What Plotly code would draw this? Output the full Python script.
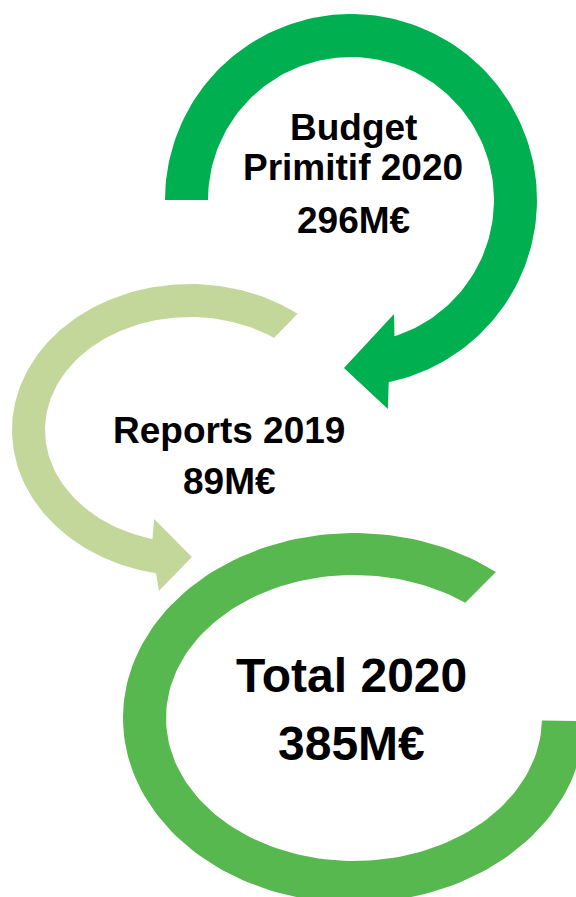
import numpy as np
import plotly.graph_objects as go

# étapes du budget (montants en M€)
stage_lines = [["Budget", "Primitif 2020"], ["Reports 2019"], ["Total 2020"]]
stage_values = [296, 89, 385]
stage_colors = ["#00B050", "#C4D79B", "#57B84F"]

# géométrie des flèches circulaires (repère en pixels, y vers le bas)
# centre, demi-axes extérieurs / intérieurs, angles début -> fin, pointe (angle, rayon relatif)
arcs = [
    dict(c=(351, 200), outer=(186, 186), inner=(143, 143),
         t_out=(180, -78.3), t_in=(180, -72.3),
         head=[(-80, 1.141), (-92.4, 0.904), (-69.3, 0.655)]),
    dict(c=(190, 430), outer=(178, 146), inner=(145, 113),
         t_out=(52.8, 259), t_in=(54.6, 255),
         head=[(261, 1.117), (270.7, 0.870), (251.7, 0.642)]),
    dict(c=(354, 718), outer=(231, 185), inner=(188, 143),
         t_out=(52.1, 359), t_in=(53.7, 359), head=[]),
]

# placement du texte
text_x = [353, 229, 351]
text_y = [[127.5, 167, 220], [430, 481], [675, 743]]
font_sizes = [37, 37, 48]


def ring(c, outer, inner, t_out, t_in, head):
    to = np.radians(np.linspace(t_out[0], t_out[1], 160))
    ti = np.radians(np.linspace(t_in[0], t_in[1], 160))[::-1]
    xs = list(c[0] + outer[0] * np.cos(to))
    ys = list(c[1] - outer[1] * np.sin(to))
    for t, s in head:
        a = np.radians(t)
        xs.append(c[0] + s * outer[0] * np.cos(a))
        ys.append(c[1] - s * outer[1] * np.sin(a))
    xs += list(c[0] + inner[0] * np.cos(ti))
    ys += list(c[1] - inner[1] * np.sin(ti))
    return xs + [xs[0]], ys + [ys[0]]


fig = go.Figure()

for arc, col in zip(arcs, stage_colors):
    xs, ys = ring(**arc)
    fig.add_trace(go.Scatter(x=xs, y=ys, mode="lines", fill="toself",
                             fillcolor=col, line=dict(width=0, color=col),
                             hoverinfo="skip", showlegend=False))

for i in range(len(stage_lines)):
    lines = stage_lines[i] + [f"{stage_values[i]}M€"]
    for line, y in zip(lines, text_y[i]):
        fig.add_annotation(x=text_x[i], y=y, text=f"<b>{line}</b>", showarrow=False,
                           xanchor="center", yanchor="middle",
                           font=dict(family="Liberation Sans, Arial", size=font_sizes[i], color="black"))

fig.update_xaxes(range=[0, 576], visible=False, fixedrange=True)
fig.update_yaxes(range=[897, 0], visible=False, fixedrange=True)
fig.update_layout(width=576, height=897, margin=dict(l=0, r=0, t=0, b=0),
                  plot_bgcolor="white", paper_bgcolor="white")

fig.write_html("out.html", config={"displayModeBar": False},
               post_script="document.body.style.margin='0';document.body.style.overflow='hidden';")
